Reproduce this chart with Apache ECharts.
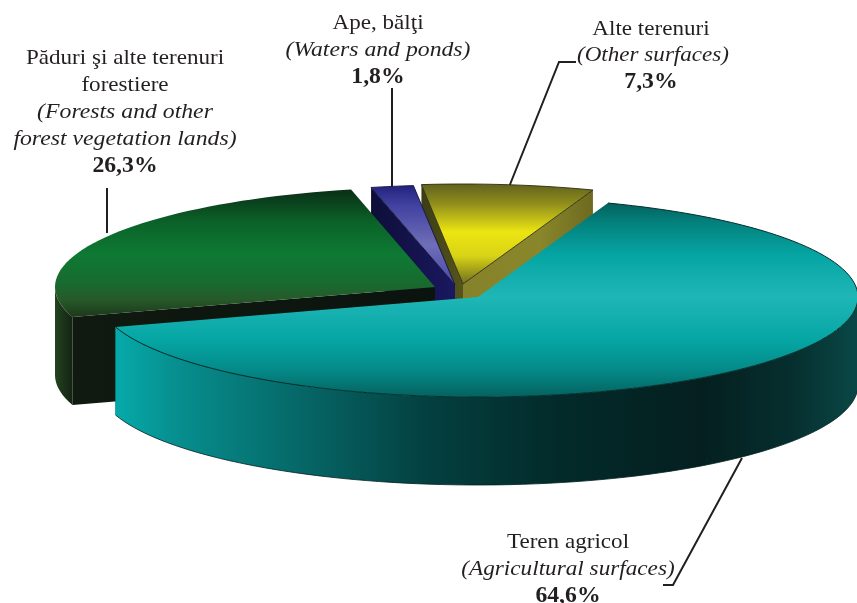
<!DOCTYPE html>
<html><head><meta charset="utf-8">
<style>html,body{margin:0;padding:0;background:#fff}#c{width:857px;height:603px}</style>
<script src="https://cdn.jsdelivr.net/npm/echarts@6/dist/echarts.min.js"></script>
</head><body><div id="c"></div>
<script>
// Data, in drawing order (back to front)
const categories = ['Alte terenuri', 'Ape, bălţi', 'Păduri şi alte terenuri forestiere', 'Teren agricol'];
const englishNames = ['Other surfaces', 'Waters and ponds', 'Forests and other forest vegetation lands', 'Agricultural surfaces'];
const shares = [7.3, 1.8, 26.3, 64.6];
const shareLabels = ['7,3%', '1,8%', '26,3%', '64,6%'];

// Projection of the tilted disc
const disc = {cx: 478, cy: 297, rx: 380, ry: 100, depth: 88, startDeg: 70};
const explode = [[-15, -13], [-23, -12], [-43, -10], [0, 0]];
const looks = [
  {top: [[186,'#66661f'],[203,'#8e8c1c'],[232,'#ece512'],[256,'#d8d316'],[285,'#6c6b1f']],
   rightWall: [[463,'#86822b'],[540,'#8a862b'],[593,'#6d6a20']], leftWall: [[420,'#3c3c16'],[463,'#55551c']],
   arc: [[420,'#666'],[593,'#666']], outline: '#2a2a10', full: true},
  {top: [[186,'#23237f'],[205,'#4141a0'],[245,'#6e6eb8'],[285,'#4848a8']],
   leftWall: [[370,'#0e0e38'],[455,'#1a1860']], arc: [[370,'#111'],[413,'#111']], outline: '#15153a', full: true},
  {top: [[192,'#0a3217'],[222,'#0b6229'],[255,'#0e7a33'],[285,'#19692f'],[300,'#27592a'],[318,'#1c3618']],
   leftWall: [[72,'#101a10'],[200,'#0e170f'],[435,'#0b130f']], arc: [[55,'#23431f'],[72,'#142414']], outline: null, full: false},
  {top: [[197,'#045753'],[222,'#04807c'],[255,'#05a5a3'],[297,'#1fb6b6'],[340,'#05a6a4'],[370,'#048a88'],[397,'#05625f']],
   arc: [[115,'#06aaaa'],[175,'#078f8f'],[300,'#066767'],[430,'#043f3f'],[560,'#032a2a'],[700,'#051f1f'],[790,'#062e2e'],[857,'#0a4746']], outline: '#03302f', full: false}
];

// Label layout
const labelLines = [
  {x: 651, y: 29, gap: 26.5, italicScale: 1.10, italicShift: 2, leader: [[576, 62], [559, 62], [509, 187]]},
  {x: 378, y: 23, gap: 27, italicScale: 1.13, italicShift: 0, leader: [[392, 88], [392, 187]]},
  {x: 125, y: 58, gap: 27, italicScale: 1.13, italicShift: 0, leader: [[107, 188], [107, 233]]},
  {x: 568, y: 542, gap: 27, italicScale: 1.105, italicShift: 0, leader: [[663, 585], [673, 585], [742, 458]]}
];
const labelText = [
  [categories[0], '(' + englishNames[0] + ')'],
  [categories[1], '(' + englishNames[1] + ')'],
  ['Păduri şi alte terenuri', 'forestiere', '(Forests and other', 'forest vegetation lands)'],
  [categories[3], '(' + englishNames[3] + ')']
];

const RAD = Math.PI / 180;
function grad(stops, lo, hi, horizontal) {
  const cs = stops.map(s => ({offset: Math.min(1, Math.max(0, (s[0] - lo) / (hi - lo))), color: s[1]}));
  return horizontal ? new echarts.graphic.LinearGradient(lo, 0, hi, 0, cs, true)
                    : new echarts.graphic.LinearGradient(0, lo, 0, hi, cs, true);
}
function arcPts(hx, hy, a0, a1) {
  const n = Math.max(2, Math.ceil(Math.abs(a1 - a0) / 2)), pts = [];
  for (let i = 0; i <= n; i++) {
    const a = (a0 + (a1 - a0) * i / n) * RAD;
    pts.push([hx + disc.rx * Math.cos(a), hy - disc.ry * Math.sin(a)]);
  }
  return pts;
}
const down = p => [p[0], p[1] + disc.depth];

function renderItem(params, api) {
  const i = params.dataIndex, look = looks[i];
  let before = 0;
  for (let k = 0; k < i; k++) before += shares[k];
  const total = shares.reduce((a, b) => a + b, 0);
  const a0 = disc.startDeg + before / total * 360;
  const a1 = a0 + api.value(0) / total * 360;
  const hx = disc.cx + explode[i][0], hy = disc.cy + explode[i][1];
  const arc = arcPts(hx, hy, a0, a1);
  const hub = [hx, hy];
  const ch = [];
  const poly = (pts, fill, stroke) => ch.push({type: 'polygon', shape: {points: pts},
    style: {fill: fill, stroke: stroke || null, lineWidth: stroke ? 0.9 : 0}});
  const line = (pts, color, w) => ch.push({type: 'polyline', shape: {points: pts},
    style: {fill: null, stroke: color, lineWidth: w}});

  // leader goes behind the slices
  line(labelLines[i].leader, '#231f20', 2);

  // outer wall: only the part of the rim facing the viewer
  const lowA0 = Math.max(a0, 180), lowA1 = Math.min(a1, 360);
  if (lowA1 > lowA0) {
    const rim = arcPts(hx, hy, lowA0, lowA1);
    const xs = rim.map(p => p[0]);
    poly(rim.concat(rim.map(down).reverse()),
      grad(look.arc, Math.min(...xs, look.arc[0][0]), Math.max(...xs, look.arc[look.arc.length - 1][0]), true));
  }
  // radial walls seen from the front
  if (look.leftWall) {
    const p = arc[arc.length - 1];
    poly([p, hub, down(hub), down(p)], grad(look.leftWall, Math.min(p[0], hx), Math.max(p[0], hx), true));
  }
  if (look.rightWall) {
    const p = arc[0];
    poly([p, hub, down(hub), down(p)], grad(look.rightWall, Math.min(p[0], hx), Math.max(p[0], hx), true));
  }
  // top face
  poly(arc.concat([hub]), grad(look.top, look.top[0][0], look.top[look.top.length - 1][0], false),
    look.full ? look.outline : null);
  if (i === 3) {
    line(arc, look.outline, 1);
    const rim = arcPts(hx, hy, lowA0, lowA1);
    line(rim.map(down), '#02201f', 0.8);
    line([rim[0], down(rim[0])], '#067f7f', 0.6);
  }

  // label text
  const L = labelLines[i];
  labelText[i].forEach((t, k) => {
    const italic = t.charAt(0) === '(' || t.slice(-1) === ')';
    ch.push({type: 'text', x: L.x + (italic ? L.italicShift : 0), y: L.y + k * L.gap, z2: 5,
      scaleX: italic ? L.italicScale : 1.05,
      style: {text: t, align: 'center', verticalAlign: 'middle', fill: '#231f20',
        font: (italic ? 'italic 21px' : '22px') + ' "Liberation Serif"'}});
  });
  ch.push({type: 'text', x: L.x, y: L.y + labelText[i].length * L.gap, z2: 5, scaleX: 1.03,
    style: {text: shareLabels[i], align: 'center', verticalAlign: 'middle', fill: '#231f20',
      font: 'bold 23px "Liberation Serif"'}});
  return {type: 'group', children: ch};
}

const chart = echarts.init(document.getElementById('c'), null, {renderer: 'canvas'});
chart.setOption({
  animation: false,
  backgroundColor: '#ffffff',
  series: [{type: 'custom', coordinateSystem: 'none', renderItem,
    data: shares.map((v, i) => ({name: categories[i], value: [v]})), silent: true}]
});
</script></body></html>
